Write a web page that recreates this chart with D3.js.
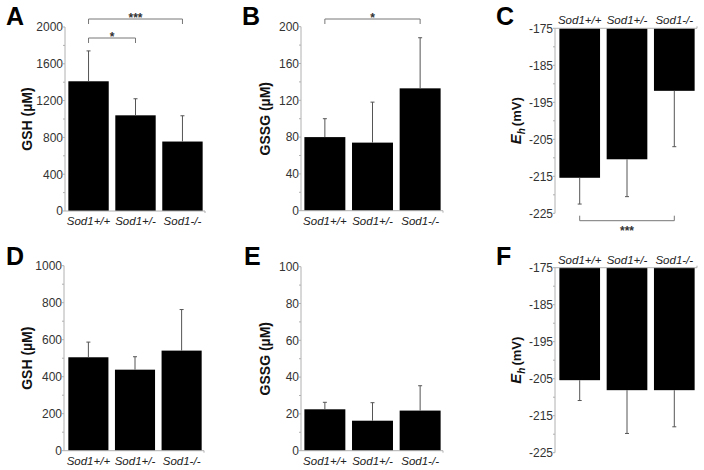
<!DOCTYPE html>
<html><head><meta charset="utf-8">
<script src="https://cdn.jsdelivr.net/npm/d3@7"></script>
<style>body{margin:0;background:#fff}svg{display:block}text{font-family:"Liberation Sans",Arial,sans-serif}</style>
</head><body><svg id="c" width="704" height="470"></svg>
<script>
const categories = ["Sod1+/+", "Sod1+/-", "Sod1-/-"];
// Panel A: GSH (µM)
const gshA = [1410, 1040, 755];
const gshAErr = [330, 180, 280];
// Panel B: GSSG (µM)
const gssgB = [80, 74, 133];
const gssgBErr = [20, 44, 55];
// Panel C: Eh (mV)
const ehC = [-215.4, -210.4, -191.9];
const ehCErr = [7.1, 10.1, 15.1];
// Panel D: GSH (µM)
const gshD = [505, 438, 541];
const gshDErr = [82, 70, 222];
// Panel E: GSSG (µM)
const gssgE = [22.5, 16.3, 21.8];
const gssgEErr = [3.8, 9.8, 13.5];
// Panel F: Eh (mV)
const ehF = [-205.4, -208.1, -208.1];
const ehFErr = [5.5, 11.7, 9.9];
// tick labels
const ticksGSH1 = [0, 400, 800, 1200, 1600, 2000];
const ticksGSSG1 = [0, 40, 80, 120, 160, 200];
const ticksEh = [-175, -185, -195, -205, -215, -225];
const ticksGSH2 = [0, 200, 400, 600, 800, 1000];
const ticksGSSG2 = [0, 20, 40, 60, 80, 100];
// significance
const sigA = [{a:0, b:2, label:"***"}, {a:0, b:1, label:"*"}];
const sigB = [{a:0, b:2, label:"*"}];
const sigC = [{a:0, b:2, label:"***"}];

const panels = [
  {id:"A", vals:gshA, err:gshAErr, ticks:ticksGSH1, domain:[0,2000], title:"GSH (µM)", neg:false,
   ax:65, x0:66, x1:205, yTop:27, yBot:211, lx:6, ly:25, tx:32, sig:sigA, sigY:[19,38], sigDir:1},
  {id:"B", vals:gssgB, err:gssgBErr, ticks:ticksGSSG1, domain:[0,200], title:"GSSG (µM)", neg:false,
   ax:301, x0:302, x1:443, yTop:26.7, yBot:210.7, lx:242, ly:25, tx:270, sig:sigB, sigY:[19], sigDir:1},
  {id:"C", vals:ehC, err:ehCErr, ticks:ticksEh, domain:[-175,-225], title:"Eh", neg:true,
   ax:555, x0:557, x1:697, yTop:28.3, yBot:213.3, lx:496, ly:25, tx:521, sig:sigC, sigY:[220.7], sigDir:-1},
  {id:"D", vals:gshD, err:gshDErr, ticks:ticksGSH2, domain:[0,1000], title:"GSH (µM)", neg:false,
   ax:64, x0:66, x1:204, yTop:265.7, yBot:450.7, lx:6, ly:265, tx:32, sig:[], sigY:[], sigDir:1},
  {id:"E", vals:gssgE, err:gssgEErr, ticks:ticksGSSG2, domain:[0,100], title:"GSSG (µM)", neg:false,
   ax:301, x0:302, x1:443, yTop:266.7, yBot:450.7, lx:244, ly:265, tx:270, sig:[], sigY:[], sigDir:1},
  {id:"F", vals:ehF, err:ehFErr, ticks:ticksEh, domain:[-175,-225], title:"Eh", neg:true,
   ax:555, x0:557, x1:697, yTop:267.7, yBot:452.7, lx:496, ly:265, tx:521, sig:[], sigY:[], sigDir:-1}
];

const svg = d3.select("#c");
const axisCol = "#b0b0b0";

panels.forEach(p => {
  const g = svg.append("g");
  const x = d3.scaleBand().domain(categories).range([p.x0, p.x1]).paddingInner(0.14).paddingOuter(0.05);
  const y = d3.scaleLinear().domain(p.domain).range(p.neg ? [p.yTop, p.yBot] : [p.yBot, p.yTop]);
  const base = p.domain[0];

  // bars
  g.selectAll("rect.bar").data(p.vals).enter().append("rect")
    .attr("x", (d,i) => x(categories[i]))
    .attr("width", x.bandwidth())
    .attr("y", d => Math.min(y(d), y(base)))
    .attr("height", d => Math.abs(y(d) - y(base)))
    .attr("fill", "#000");

  // error bars
  p.vals.forEach((v,i) => {
    const cx = x(categories[i]) + x.bandwidth()/2;
    const e = p.neg ? v - p.err[i] : v + p.err[i];
    g.append("line").attr("x1", cx).attr("x2", cx).attr("y1", y(v)).attr("y2", y(e))
      .attr("stroke", "#555").attr("stroke-width", 1);
    g.append("line").attr("x1", cx-2).attr("x2", cx+2).attr("y1", y(e)).attr("y2", y(e))
      .attr("stroke", "#555").attr("stroke-width", 1);
  });

  // y axis line
  g.append("line").attr("x1", p.ax).attr("x2", p.ax).attr("y1", y(p.domain[1])).attr("y2", y(p.domain[0]))
    .attr("stroke", axisCol).attr("stroke-width", 1);
  // x axis line
  const xy = y(base);
  g.append("line").attr("x1", p.ax).attr("x2", p.x1).attr("y1", xy).attr("y2", xy)
    .attr("stroke", axisCol).attr("stroke-width", 1);
  g.append("line").attr("x1", p.x1).attr("x2", p.x1).attr("y1", xy).attr("y2", xy + (p.neg?-2:2))
    .attr("stroke", axisCol);

  // ticks
  p.ticks.forEach((t,k) => {
    g.append("text").attr("x", p.ax - 2).attr("y", y(t)).attr("dy", "0.36em")
      .attr("text-anchor", "end").attr("font-size", 12).attr("fill", "#333").text(t);
    g.append("line").attr("x1", p.ax-2).attr("x2", p.ax).attr("y1", y(t)).attr("y2", y(t)).attr("stroke", axisCol);
    if (k < p.ticks.length - 1) {
      const m = (t + p.ticks[k+1]) / 2;
      g.append("line").attr("x1", p.ax-2).attr("x2", p.ax).attr("y1", y(m)).attr("y2", y(m)).attr("stroke", axisCol);
    }
  });

  // category labels
  categories.forEach(c => {
    g.append("text").attr("x", x(c) + x.bandwidth()/2)
      .attr("y", p.neg ? y(base) - 4 : y(base) + 14)
      .attr("text-anchor", "middle").attr("font-size", 11.5).attr("font-style", "italic")
      .attr("fill", "#222").text(c);
  });

  // y title
  const tt = g.append("text").attr("transform", `translate(${p.tx},${(p.yTop+p.yBot)/2}) rotate(-90)`)
    .attr("text-anchor", "middle").attr("font-size", 14).attr("font-weight", "bold").attr("fill", "#111");
  if (p.neg) {
    tt.append("tspan").attr("font-style", "italic").attr("font-size", 15).text("E");
    tt.append("tspan").attr("font-style", "italic").attr("font-size", 10).attr("dy", 4).text("h");
    tt.append("tspan").attr("dy", -4).attr("dx", 2).attr("font-size", 13).text("(mV)");
  } else {
    tt.text(p.title);
  }

  // panel label
  g.append("text").attr("x", p.lx).attr("y", p.ly).attr("font-size", 25).attr("font-weight", "bold")
    .attr("fill", "#000").text(p.id);

  // significance brackets
  p.sig.forEach((s, k) => {
    const xa = x(categories[s.a]) + x.bandwidth()/2;
    const xb = x(categories[s.b]) + x.bandwidth()/2;
    const by = p.sigY[k];
    const d = p.sigDir * 5;
    g.append("path").attr("d", `M${xa},${by+d}V${by}H${xb}V${by+d}`)
      .attr("fill", "none").attr("stroke", "#777").attr("stroke-width", 1);
    g.append("text").attr("x", (xa+xb)/2).attr("y", p.sigDir > 0 ? by + 2.5 : by + 14)
      .attr("text-anchor", "middle").attr("font-size", 12).attr("font-weight", "bold")
      .attr("fill", "#333").text(s.label);
  });
});
</script></body></html>
